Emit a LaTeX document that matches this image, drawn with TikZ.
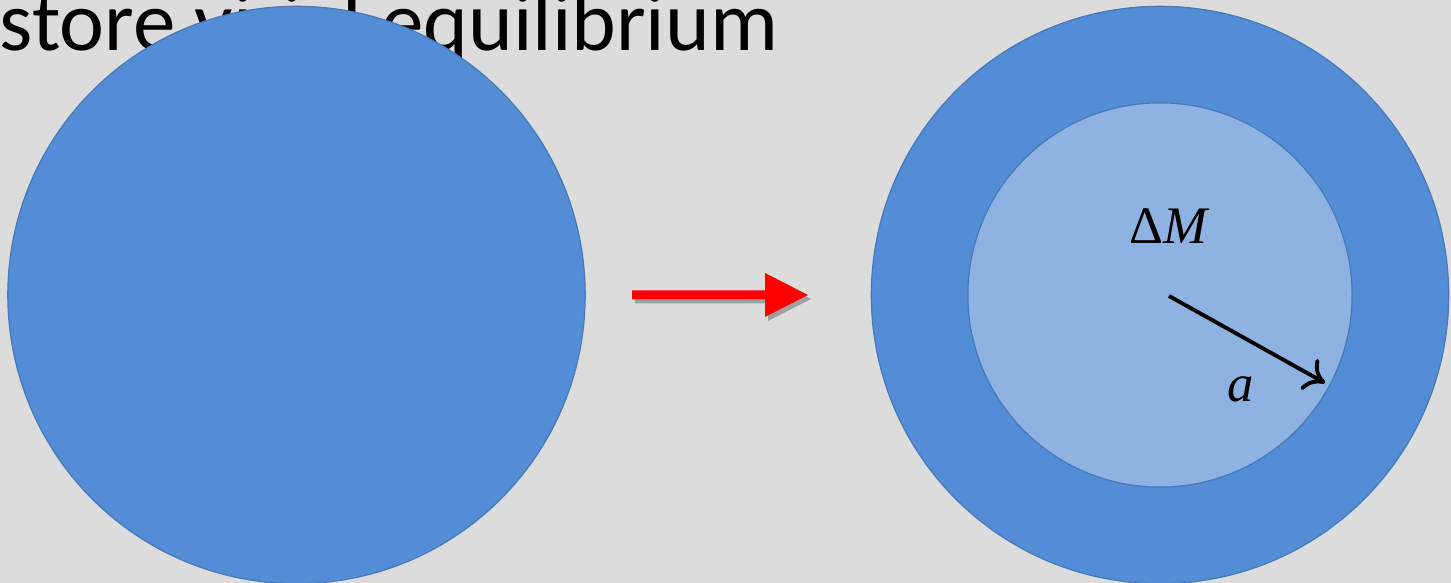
\documentclass[tikz,border=0pt]{standalone}
\usepackage{fontspec}
\setmainfont{Liberation Serif}
\newfontfamily\titlefont{Carlito}
\usetikzlibrary{arrows.meta,calc}
\definecolor{bgray}{RGB}{220,220,220}
\definecolor{ballblue}{RGB}{83,141,213}
\definecolor{balledge}{RGB}{72,122,186}
\definecolor{coreblue}{RGB}{142,179,226}
\definecolor{shadowgray}{RGB}{160,160,160}
\tikzset{
  ball/.style={circle, draw=balledge, line width=0.35pt, fill=ballblue, inner sep=0pt},
  core/.style={circle, draw=balledge, line width=0.35pt, fill=coreblue, inner sep=0pt},
  mathlabel/.style={inner sep=0pt, font=\fontsize{15}{18}\selectfont},
}
\begin{document}
\begin{tikzpicture}[x=0.01cm, y=-0.01cm]
  % canvas
  \fill[bgray] (0,0) rectangle (1451,583);
  \useasboundingbox (0,0) rectangle (1451,583);

  % heading, partly hidden behind the left sphere
  \node[anchor=base west, inner sep=0pt, font=\titlefont\fontsize{24.2}{29}\selectfont]
    (heading) at (-1,51) {store virial equilibrium};

  % sphere before collapse
  \node[ball, minimum size=5.77cm] (before) at (296.5,295) {};

  % red transition arrow with drop shadow
  \coordinate (tail) at (632,295);
  \coordinate (shadowtail) at ($(tail)+(3,4)$);
  \fill[shadowgray] (shadowtail) ++(0,-4.5) -- ++(133,0) -- ++(0,-17.5) -- ++(43,22)
      -- ++(-43,22) -- ++(0,-17.5) -- ++(-133,0) -- cycle;
  \fill[red] (tail) ++(0,-4.5) -- ++(133,0) -- ++(0,-17.5) -- ++(43,22)
      -- ++(-43,22) -- ++(0,-17.5) -- ++(-133,0) -- cycle;

  % sphere after collapse, with its core
  \node[ball, minimum size=5.77cm] (after) at (1160,295) {};
  \node[core, minimum size=3.84cm] (inner) at (1160,295) {};

  % radius of the core
  \coordinate (rstart) at (1169,296);
  \coordinate (rend) at (1325,383);
  \draw[line width=1.1pt, -{To[length=5.5pt, width=10pt]}] (rstart) -- (rend);

  \node[mathlabel] (mass) at (1168,226) {Δ{\itshape M}};
  \node[mathlabel, anchor=base] (radius) at (1241,402) {\itshape a};
\end{tikzpicture}
\end{document}
